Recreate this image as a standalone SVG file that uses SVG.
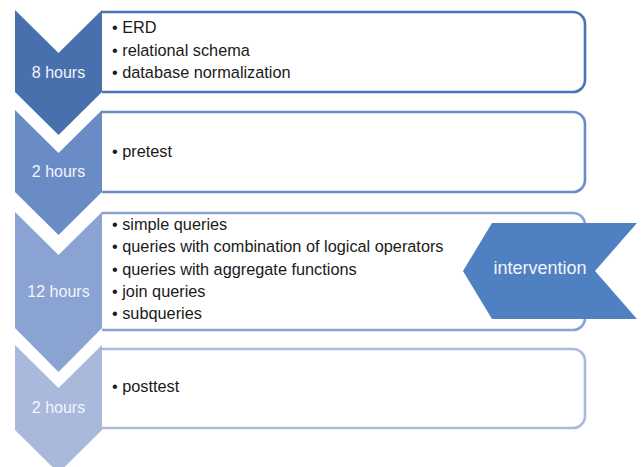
<svg xmlns="http://www.w3.org/2000/svg" width="642" height="467" viewBox="0 0 642 467">
  <style>
    .lbl { font-family: "Liberation Sans", Arial, sans-serif; font-size: 16px; fill: #f2f5fb; text-anchor: middle; }
    .big { font-size: 18px; }
    .item { font-family: "Liberation Sans", Arial, sans-serif; font-size: 16.3px; fill: #1a1a1a; }
    .box { fill: #ffffff; stroke-width: 2.6; }
  </style>
  <rect width="642" height="467" fill="#ffffff"/>

  <!-- stage 1 -->
  <g id="stage1">
    <path class="box" stroke="#4a74b3" d="M102,12 H573 A12,12 0 0 1 585,24 V80 A12,12 0 0 1 573,92 H102"/>
    <polygon fill="#4870ad" points="15,10 58.5,53 102,10 102,92 58.5,135 15,92"/>
    <text class="lbl" x="58.5" y="78">8 hours</text>
    <text class="item" x="112" y="33">• ERD</text>
    <text class="item" x="112" y="56">• relational schema</text>
    <text class="item" x="112" y="78">• database normalization</text>
  </g>

  <!-- stage 2 -->
  <g id="stage2">
    <path class="box" stroke="#6a8dc8" d="M102,112 H573 A12,12 0 0 1 585,124 V180 A12,12 0 0 1 573,192 H102"/>
    <polygon fill="#6a8cc6" points="15,110 58.5,153 102,110 102,192 58.5,235 15,192"/>
    <text class="lbl" x="58.5" y="177">2 hours</text>
    <text class="item" x="112" y="157">• pretest</text>
  </g>

  <!-- stage 3 -->
  <g id="stage3">
    <path class="box" stroke="#8aa3d3" d="M102,213 H573 A12,12 0 0 1 585,225 V318 A12,12 0 0 1 573,330 H102"/>
    <polygon fill="#8aa3d3" points="15,212 58.5,255 102,212 102,328 58.5,372 15,328"/>
    <text class="lbl" x="58.5" y="297">12 hours</text>
    <text class="item" x="112" y="230">• simple queries</text>
    <text class="item" x="112" y="252">• queries with combination of logical operators</text>
    <text class="item" x="112" y="275">• queries with aggregate functions</text>
    <text class="item" x="112" y="297">• join queries</text>
    <text class="item" x="112" y="319">• subqueries</text>
  </g>

  <!-- stage 4 -->
  <g id="stage4">
    <path class="box" stroke="#a9badd" d="M102,349 H573 A12,12 0 0 1 585,361 V416 A12,12 0 0 1 573,428 H102"/>
    <polygon fill="#a9b9dc" points="15,345 58.5,388 102,345 102,430 58.5,473 15,430"/>
    <text class="lbl" x="58.5" y="413">2 hours</text>
    <text class="item" x="112" y="392">• posttest</text>
  </g>

  <!-- intervention marker -->
  <g id="intervention">
    <polygon fill="#4f80c1" points="492,223 637,223 595,271 637,319 492,319 463,271"/>
    <text class="lbl big" x="540" y="274">intervention</text>
  </g>

  <g id="connectors"/>
</svg>
